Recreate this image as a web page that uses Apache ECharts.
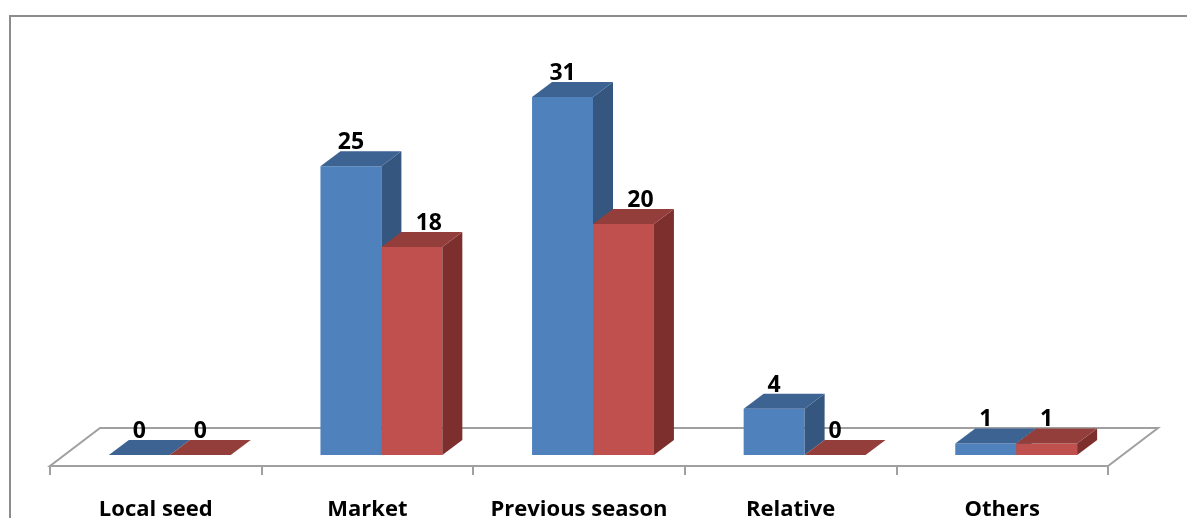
<!DOCTYPE html>
<html>
<head>
<meta charset="utf-8">
<script src="https://cdn.jsdelivr.net/npm/echarts@6/dist/echarts.min.js"></script>
<style>
  html, body { margin: 0; padding: 0; background: #fff; }
  #chart { width: 1187px; height: 518px; }
</style>
</head>
<body>
<div id="chart"></div>
<script>
// Seed sources, two respondent groups
const categories = ['Local seed', 'Market', 'Previous season', 'Relative', 'Others'];
const seriesA = [0, 25, 31, 4, 1];
const seriesB = [0, 18, 20, 0, 1];

const FONT = '"Open Sans", Lato, sans-serif';
const palette = [
  { front: '#4F81BD', top: '#3D6393', side: '#34567F' },
  { front: '#C0504D', top: '#943E3C', side: '#7D2F2D' }
];

// oblique projection used for the pseudo-3D look
const DEPTH_X = 20, DEPTH_Y = -15;      // bar depth
const FLOOR_X = 50, FLOOR_Y = -38;      // floor depth
const INSET_X = 14, INSET_Y = -11;      // bars stand partway into the floor
const BAR_FRAC = 0.288;                 // bar width as fraction of category band

function makeBarRenderer(sIdx) {
  return function (params, api) {
    const ci = api.value(0);
    const v = api.value(1);
    const base = api.coord([ci, 0]);
    const top = api.coord([ci, v]);
    const band = api.size([1, 0])[0];
    const w = band * BAR_FRAC;
    const x0 = (sIdx === 0 ? base[0] - w : base[0]) + INSET_X;
    const x1 = x0 + w;
    const yb = base[1] + INSET_Y;
    const yt = top[1] + INSET_Y;
    const c = palette[sIdx];
    const children = [];
    if (yb - yt > 0.5) {
      children.push({ type: 'rect', shape: { x: x0, y: yt, width: w, height: yb - yt }, style: { fill: c.front } });
      children.push({ type: 'polygon', shape: { points: [[x1, yt], [x1 + DEPTH_X, yt + DEPTH_Y], [x1 + DEPTH_X, yb + DEPTH_Y], [x1, yb]] }, style: { fill: c.side } });
    }
    children.push({ type: 'polygon', shape: { points: [[x0, yt], [x1, yt], [x1 + DEPTH_X, yt + DEPTH_Y], [x0 + DEPTH_X, yt + DEPTH_Y]] }, style: { fill: c.top } });
    // value label; the shorter red bar moves its label clear of the taller neighbour
    let lx = (x0 + x1) / 2;
    if (sIdx === 1 && v > 0 && seriesA[ci] > v) lx += 17;
    children.push({
      type: 'text',
      style: {
        text: String(v), x: lx, y: yt + DEPTH_Y + 3,
        textAlign: 'center', textVerticalAlign: 'bottom',
        font: 'bold 23px ' + FONT, fill: '#000'
      }
    });
    return { type: 'group', children: children };
  };
}

function renderFloor(params, api) {
  const cs = params.coordSys;
  const yf = cs.y + cs.height;
  const xl = cs.x, xr = cs.x + cs.width;
  return {
    type: 'polygon',
    shape: { points: [[xl, yf], [xr, yf], [xr + FLOOR_X, yf + FLOOR_Y], [xl + FLOOR_X, yf + FLOOR_Y]] },
    style: { fill: '#fff', stroke: '#a0a0a0', lineWidth: 2 },
    z2: -10
  };
}

const PX_PER_UNIT = 11.55;
const Y_MAX = 35;
const GRID_BOTTOM_Y = 466;

const chart = echarts.init(document.getElementById('chart'), null, { renderer: 'canvas' });
chart.setOption({
  backgroundColor: '#fff',
  animation: false,
  graphic: [{
    type: 'rect', shape: { x: 10, y: 16, width: 1300, height: 700 },
    style: { fill: 'none', stroke: '#8c8c8c', lineWidth: 2 }, silent: true, z: -1
  }],
  grid: {
    left: 50, width: 1058,
    top: GRID_BOTTOM_Y - Y_MAX * PX_PER_UNIT,
    height: Y_MAX * PX_PER_UNIT,
    containLabel: false,
    outerBoundsMode: 'none'
  },
  xAxis: {
    type: 'category', data: categories, boundaryGap: true,
    axisLine: { show: true, lineStyle: { color: '#a0a0a0', width: 2 } },
    axisTick: { show: true, length: 9, interval: 0, lineStyle: { color: '#a0a0a0', width: 2 } },
    axisLabel: { interval: 0, margin: 33, color: '#000', fontFamily: FONT, fontWeight: 'bold', fontSize: 22 },
    splitLine: { show: false }
  },
  yAxis: { type: 'value', min: 0, max: Y_MAX, show: false, splitLine: { show: false } },
  series: [
    { type: 'custom', name: 'floor', renderItem: renderFloor, data: [0], z: 1, silent: true },
    { type: 'custom', name: 'A', renderItem: makeBarRenderer(0), data: seriesA.map((v, i) => [i, v]), encode: { x: 0, y: 1 }, z: 3 },
    { type: 'custom', name: 'B', renderItem: makeBarRenderer(1), data: seriesB.map((v, i) => [i, v]), encode: { x: 0, y: 1 }, z: 3 }
  ]
});
</script>
</body>
</html>
